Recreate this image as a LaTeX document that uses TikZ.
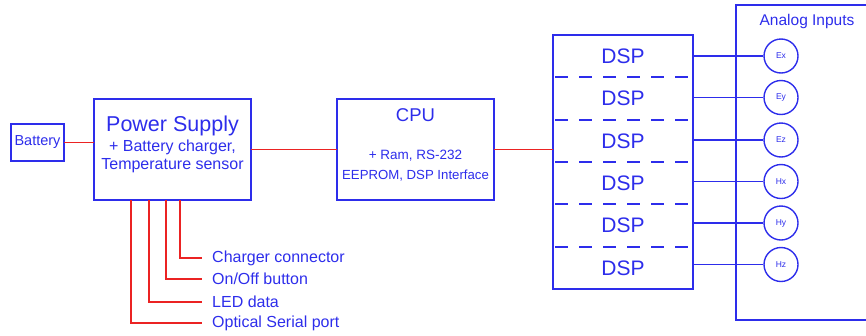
\documentclass[tikz,border=0pt]{standalone}
\usepackage{fontspec}
\setmainfont{Liberation Sans}
\usetikzlibrary{calc}
\definecolor{dblue}{RGB}{45,45,235}
\definecolor{dred}{RGB}{235,35,35}
\begin{document}
\begin{tikzpicture}[x=1pt,y=-1pt,
  box/.style={draw=dblue,line width=2pt,inner sep=0pt,outer sep=0pt},
  txt/.style={text=dblue,inner sep=0pt},
  redline/.style={draw=dred,line width=1.8pt},
  blueline/.style={draw=dblue,line width=1.8pt},
  sensor/.style={circle,draw=dblue,line width=1.4pt,minimum size=34pt,inner sep=0pt,text=dblue,font=\fontsize{8.5}{9}\selectfont}]
\useasboundingbox (0,0) rectangle (866,335);
% boxes
\node[box,minimum width=53pt,minimum height=37pt] (bat) at (37.5,142.5) {};
\node[txt,font=\fontsize{14.5}{16}\selectfont] at (bat.center) {Battery};
\node[box,minimum width=157pt,minimum height=101pt] (ps) at (172.5,149.5) {};
\node[txt,font=\fontsize{21.5}{24}\selectfont] at (172.5,126) {Power Supply};
\node[txt,font=\fontsize{16}{18}\selectfont] at (172.5,147) {+ Battery charger,};
\node[txt,font=\fontsize{16}{18}\selectfont] at (172.5,166) {Temperature sensor};
\node[box,minimum width=157pt,minimum height=101pt] (cpu) at (415.5,149.5) {};
\node[txt,font=\fontsize{18.5}{20}\selectfont] at (415.5,115) {CPU};
\node[txt,font=\fontsize{13.5}{15}\selectfont] at (415.5,156) {+ Ram, RS-232};
\node[txt,font=\fontsize{13.2}{15}\selectfont] at (415.5,176) {EEPROM, DSP Interface};
% DSP stack
\node[box,minimum width=140pt,minimum height=254pt] (dsp) at (623,162) {};
\foreach \k in {1,...,5}{
  \draw[dblue,line width=1.8pt,dash pattern=on 13pt off 11pt,dash phase=-2pt]
    ($(dsp.north west)+(0,42.33*\k)$) -- ($(dsp.north east)+(0,42.33*\k)$);
}
\foreach \k/\lab/\yy in {1/Ex/56,2/Ey/97.5,3/Ez/140,4/Hx/181.5,5/Hy/223,6/Hz/264.5}{
  \node[txt,font=\fontsize{21}{23}\selectfont] (d\k) at (623,{35+42.33*(\k-0.5)}) {DSP};
  \node[sensor] (c\k) at (781,\yy) {\lab};
  \coordinate (o\k) at (dsp.east |- c\k);
  \draw[blueline] (o\k) -- (c\k.west);
}
% analog inputs box
\draw[blueline,line width=2pt] (870,5) -- (736,5) -- (736,320) -- (870,320);
\node[txt,font=\fontsize{15.5}{17}\selectfont] (ai) at (807,21) {Analog Inputs};
% red connectors
\draw[redline] (bat.east) -- (bat.east -| ps.west);
\draw[redline] (ps.east |- cpu.west) -- (cpu.west);
\draw[redline] (cpu.east) -- (cpu.east -| dsp.west);
% pins from power supply
\foreach \i/\xx/\yy/\lab in {1/180/258/{Charger connector},2/166/279/{On/Off button},3/149/302/{LED data},4/131/323/{Optical Serial port}}{
  \coordinate (p\i) at (\xx,200);
  \node[txt,anchor=west,font=\fontsize{16}{18}\selectfont] (l\i) at (212,\yy) {\lab};
  \coordinate (e\i) at (202,\yy);
  \draw[redline] (p\i) |- (e\i);
}
\end{tikzpicture}
\end{document}
